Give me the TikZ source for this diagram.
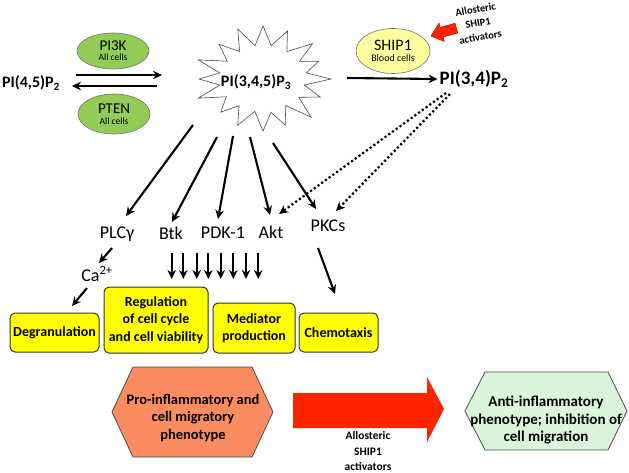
\documentclass[tikz,border=0pt]{standalone}
\usepackage{fontspec}
\setmainfont{Carlito}
\usetikzlibrary{arrows.meta,shapes.geometric}
\definecolor{boxyellow}{RGB}{255,255,0}
\definecolor{shipyellow}{RGB}{255,255,160}
\definecolor{pigreen}{RGB}{146,204,84}
\definecolor{prored}{RGB}{250,140,95}
\definecolor{antigreen}{RGB}{218,245,218}
\definecolor{arrred}{RGB}{255,36,0}
\begin{document}
\begin{tikzpicture}[x=1pt,y=-1pt,
  big/.style={font=\fontsize{16}{18}\selectfont\bfseries, inner sep=0pt},
  mid/.style={font=\fontsize{18}{19}\selectfont, inner sep=0pt},
  arr/.style={line width=2.1pt, -{Stealth[length=9pt,width=8.5pt]}},
  dotarr/.style={line width=2.2pt, dash pattern=on 2.2pt off 2.4pt, -{Stealth[length=9pt,width=8.5pt]}},
  ybox/.style={draw=black!80, line width=1pt, fill=boxyellow, rounded corners=5pt,
    font=\fontsize{14}{17.5}\selectfont\bfseries, align=center, inner sep=1pt},
  ell/.style={ellipse, draw=black!55, line width=0.6pt, inner sep=0pt, align=center},
  hexfont/.style={font=\fontsize{15}{17.5}\selectfont\bfseries, align=center, inner sep=0pt},
  small/.style={font=\fontsize{11.5}{15.5}\selectfont\bfseries, align=center, inner sep=0pt},
]
\useasboundingbox (0,0) rectangle (629,472);

% --- top row ---
\node[big] (pi45) at (31,83) {PI(4,5)P\textsubscript{2}};
\node[ell, fill=pigreen, minimum width=72pt, minimum height=36pt] (pi3k) at (113,51)
  {{\fontsize{15}{15}\selectfont PI3K}\\[-2pt]{\fontsize{9.5}{10}\selectfont All cells}};
\node[ell, fill=pigreen, minimum width=72pt, minimum height=40pt] (pten) at (114,114)
  {{\fontsize{15}{15}\selectfont PTEN}\\[-1pt]{\fontsize{9.5}{10}\selectfont All cells}};

% starburst
\begin{scope}[shift={(263,79)}]
\draw[line width=0.6pt, draw=black!70, fill=white]
 (0:68 and 50) -- (11.25:42 and 31) -- (22.5:62 and 47) -- (33.75:43 and 33)
 -- (45:68 and 54) -- (56.25:41 and 32) -- (67.5:58 and 50) -- (78.75:41 and 34)
 -- (90:62 and 52) -- (101.25:42 and 33) -- (112.5:66 and 50) -- (123.75:43 and 32)
 -- (135:60 and 47) -- (146.25:44 and 32) -- (157.5:70 and 50) -- (168.75:44 and 31)
 -- (180:64 and 48) -- (191.25:44 and 31) -- (202.5:70 and 50) -- (213.75:43 and 32)
 -- (225:62 and 49) -- (236.25:42 and 33) -- (247.5:66 and 54) -- (258.75:41 and 34)
 -- (270:60 and 53) -- (281.25:42 and 34) -- (292.5:64 and 52) -- (303.75:43 and 33)
 -- (315:70 and 50) -- (326.25:44 and 32) -- (337.5:60 and 46) -- (348.75:44 and 31)
 -- cycle;
\end{scope}
\node[big] (pi345) at (256,82) {PI(3,4,5)P\textsubscript{3}};

\node[ell, fill=shipyellow, minimum width=74pt, minimum height=45pt] (ship) at (393,51)
  {{\fontsize{16}{16}\selectfont SHIP1}\\[-1pt]{\fontsize{10}{11}\selectfont Blood cells}};
\node[font=\fontsize{19}{20}\selectfont\bfseries, inner sep=0pt] (pi34) at (474,79) {PI(3,4)P\textsubscript{2}};

\node[align=center, inner sep=0pt, rotate=10, font=\fontsize{10.5}{14}\selectfont\bfseries] (allo1) at (478,23) {Allosteric\\SHIP1\\activators};
\filldraw[fill=arrred, draw=red!70!black, line width=0.4pt]
  (431,36) -- (444.3,41.5) -- (443.2,37) -- (457.8,33) -- (455,23.2) -- (440.3,27.4) -- (439,23) -- cycle;

\coordinate (fa1) at (76,75);  \coordinate (fa2) at (162,75);
\coordinate (ra1) at (157,86); \coordinate (ra2) at (72,86);
\draw[arr] (fa1) -- (fa2);
\draw[arr] (ra1) -- (ra2);
\coordinate (sa1) at (347,78); \coordinate (sa2) at (pi34.west);
\draw[arr] (sa1) -- ([xshift=-2pt]sa2);

% --- middle labels ---
\node[mid] (plc) at (117,234) {PLCγ};
\node[mid] (btk) at (171,233) {Btk};
\node[mid] (pdk) at (223,233) {PDK-1};
\node[mid] (akt) at (271,232) {Akt};
\node[mid] (pkc) at (328,226) {PKCs};
\node[mid] (ca) at (97,274) {Ca\textsuperscript{2+}};

\coordinate (s1) at (193,125); \coordinate (e1) at (126,216);
\coordinate (s2) at (217,137); \coordinate (e2) at (172,222);
\coordinate (s3) at (233,136); \coordinate (e3) at (218,219);
\coordinate (s4) at (250,137); \coordinate (e4) at (270,215);
\coordinate (s5) at (273,143); \coordinate (e5) at (316,209);
\draw[arr] (s1) -- (e1);
\draw[arr] (s2) -- (e2);
\draw[arr] (s3) -- (e3);
\draw[arr] (s4) -- (e4);
\draw[arr] (s5) -- (e5);

\coordinate (d1) at (446,93); \coordinate (d2) at (450,94);
\coordinate (ak) at (279,214); \coordinate (pk) at (336,211);
\draw[dotarr] (d1) -- (ak);
\draw[dotarr] (d2) -- (pk);

\coordinate (p1) at (112,248); \coordinate (p2) at (99,263);
\draw[arr] (p1) -- (p2);
\coordinate (c1) at (87,288); \coordinate (c2) at (72,306);
\draw[arr] (c1) -- (c2);
\coordinate (k1) at (318,248); \coordinate (k2) at (335,294);
\draw[arr] (k1) -- (k2);

\foreach \i/\x in {1/171.7,2/183.3,3/196.7,4/208.3,5/220.7,6/233.3,7/246,8/258.3}{
  \coordinate (da\i) at (\x,253); \coordinate (db\i) at (\x,279);
  \draw[arr] (da\i) -- (db\i);
}

% --- boxes ---
\node[ybox, minimum width=89pt, minimum height=39pt] (degr) at (54.5,332.5) {Degranulation};
\node[ybox, minimum width=104pt, minimum height=66pt] (reg) at (156,320) {Regulation\\of cell cycle\\and cell viability};
\node[ybox, minimum width=82pt, minimum height=50pt] (med) at (254,328) {Mediator\\production};
\node[ybox, minimum width=79pt, minimum height=39pt] (chem) at (338.5,332.5) {Chemotaxis};

% --- bottom ---
\filldraw[fill=prored, draw=black!70, line width=0.8pt]
  (112,412) -- (133,367) -- (252,367) -- (273,412) -- (252,457) -- (133,457) -- cycle;
\node[hexfont, font=\fontsize{14.5}{17.5}\selectfont\bfseries] (pro) at (193,418) {Pro-inflammatory and\\cell migratory\\phenotype};

\fill[arrred] (293,393) -- (427,393) -- (427,377) -- (444,409) -- (427,442) -- (427,428) -- (293,428) -- cycle;
\node[small] (allo2) at (368,451) {Allosteric\\SHIP1\\activators};

\filldraw[fill=antigreen, draw=black!70, line width=0.8pt]
  (465,411) -- (485,372) -- (608,372) -- (627,411) -- (608,450) -- (485,450) -- cycle;
\node[hexfont] (anti) at (546,420) {Anti-inflammatory\\phenotype; inhibition of\\cell migration};
\end{tikzpicture}
\end{document}
